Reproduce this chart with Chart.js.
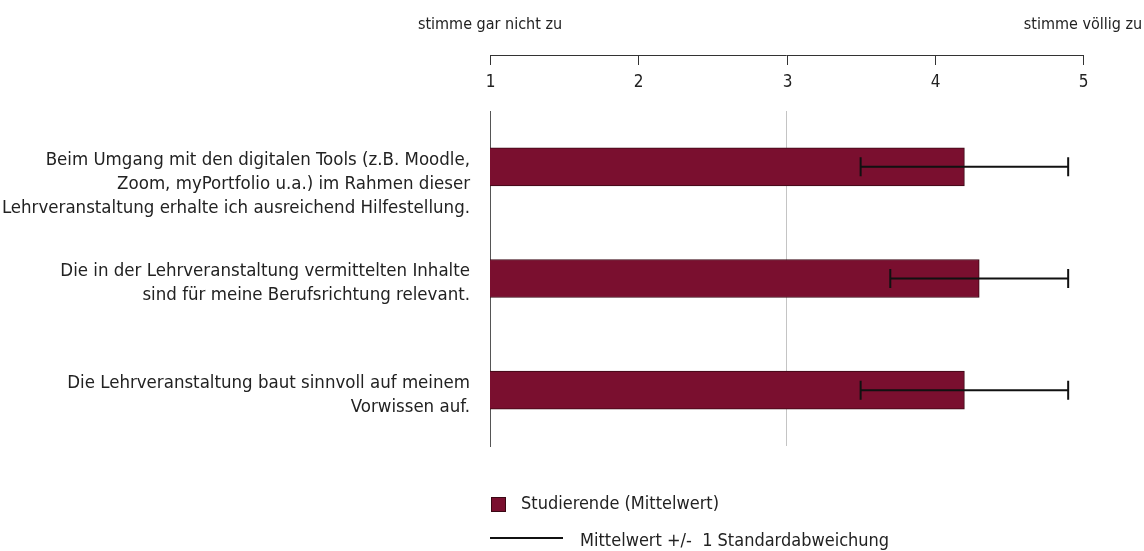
<!DOCTYPE html>
<html>
<head>
<meta charset="utf-8">
<script src="https://cdn.jsdelivr.net/npm/chart.js@4.4.1/dist/chart.umd.min.js"></script>
<style>
  html, body { margin: 0; padding: 0; background: #fff; }
  #wrap { width: 1144px; height: 551px; }
</style>
</head>
<body>
<div id="wrap"><canvas id="chart" width="1144" height="551"></canvas></div>
<script>
// items (multi-line labels)
const categories = [
    ['Beim Umgang mit den digitalen Tools (z.B. Moodle,', 'Zoom, myPortfolio u.a.) im Rahmen dieser', 'Lehrveranstaltung erhalte ich ausreichend Hilfestellung.'],
    ['Die in der Lehrveranstaltung vermittelten Inhalte', 'sind für meine Berufsrichtung relevant.'],
    ['Die Lehrveranstaltung baut sinnvoll auf meinem', 'Vorwissen auf.']
];
const means = [4.2, 4.3, 4.2];
const sdLower = [3.5, 3.7, 3.5];
const sdUpper = [4.9, 4.9, 4.9];
const scaleTicks = [1, 2, 3, 4, 5];
const anchorLeft = 'stimme gar nicht zu';
const anchorRight = 'stimme völlig zu';
const legendBar = 'Studierende (Mittelwert)';
const legendLine = 'Mittelwert +/-  1 Standardabweichung';

const FONT = '"DejaVu Sans Condensed", "Liberation Sans", sans-serif';
const BAR = '#7a0f2f';

// labels start at the top of the bar: pad every item to three lines
let labels = categories.map(function (c) {
    let l = c.slice();
    while (l.length < 3) l.push('');
    return l;
});

// one small line dataset per item for the +/- 1 SD whiskers
let errorSets = labels.map(function (c, i) {
    return {
        type: 'line',
        indexAxis: 'y',
        order: 0,
        data: [{x: sdLower[i], y: c}, {x: sdUpper[i], y: c}],
        borderColor: '#111',
        borderWidth: 2,
        pointStyle: 'line',
        rotation: 90,
        pointRadius: 9.5,
        pointBorderWidth: 2,
        pointBorderColor: '#111',
        fill: false
    };
});

// top scale, anchor texts and legend
const extras = {
    id: 'extras',
    afterDraw(chart) {
        const ctx = chart.ctx;
        const xs = chart.scales.x;
        const area = chart.chartArea;
        ctx.save();
        ctx.strokeStyle = '#333';
        ctx.lineWidth = 1;
        let x1 = xs.getPixelForValue(scaleTicks[0]);
        let x5 = xs.getPixelForValue(scaleTicks[scaleTicks.length - 1]);
        ctx.beginPath();
        ctx.moveTo(x1, 55.5);
        ctx.lineTo(x5, 55.5);
        ctx.stroke();
        ctx.fillStyle = '#222';
        ctx.font = '17px ' + FONT;
        ctx.textAlign = 'center';
        ctx.textBaseline = 'middle';
        scaleTicks.forEach(function (v) {
            let px = Math.round(xs.getPixelForValue(v)) + 0.5;
            ctx.beginPath();
            ctx.moveTo(px, 55);
            ctx.lineTo(px, 65);
            ctx.stroke();
            ctx.fillText(String(v), px, 83);
        });
        ctx.font = '16px ' + FONT;
        ctx.fillText(anchorLeft, x1, 25);
        ctx.fillText(anchorRight, x5, 25);

        // legend
        let lx = area.left;
        ctx.fillStyle = BAR;
        ctx.strokeStyle = '#3a0814';
        ctx.fillRect(lx + 1, 497, 15, 15);
        ctx.strokeRect(lx + 1.5, 497.5, 14, 14);
        ctx.fillStyle = '#222';
        ctx.textAlign = 'left';
        ctx.font = '18px ' + FONT;
        ctx.fillText(legendBar, lx + 31, 504);
        ctx.strokeStyle = '#111';
        ctx.lineWidth = 2;
        ctx.beginPath();
        ctx.moveTo(lx, 538);
        ctx.lineTo(lx + 73, 538);
        ctx.stroke();
        ctx.fillText(legendLine, lx + 90, 541);
        ctx.restore();
    }
};

new Chart(document.getElementById('chart'), {
    type: 'bar',
    data: {
        labels: labels,
        datasets: [{
            label: legendBar,
            order: 2,
            data: means,
            backgroundColor: BAR,
            borderColor: '#3a0814',
            borderWidth: 1,
            borderSkipped: false,
            barThickness: 38
        }].concat(errorSets)
    },
    options: {
        indexAxis: 'y',
        responsive: false,
        animation: false,
        events: [],
        layout: {padding: {top: 111, right: 61, bottom: 105, left: 0}},
        plugins: {legend: {display: false}, tooltip: {enabled: false}},
        scales: {
            x: {
                position: 'top',
                min: 1,
                max: 5,
                ticks: {display: false, stepSize: 1},
                grid: {
                    drawTicks: false,
                    color: function (c) { return c.tick && c.tick.value === 3 ? '#c4c4c4' : 'rgba(0,0,0,0)'; }
                },
                border: {display: false}
            },
            y: {
                afterFit: function (scale) { scale.width = 490; },
                grid: {display: false, drawTicks: false},
                border: {display: true, color: '#555', width: 1},
                ticks: {
                    color: '#222',
                    padding: 20,
                    labelOffset: 17,
                    font: {family: FONT, size: 18.5, lineHeight: 1.3}
                }
            }
        }
    },
    plugins: [extras]
});
</script>
</body>
</html>
